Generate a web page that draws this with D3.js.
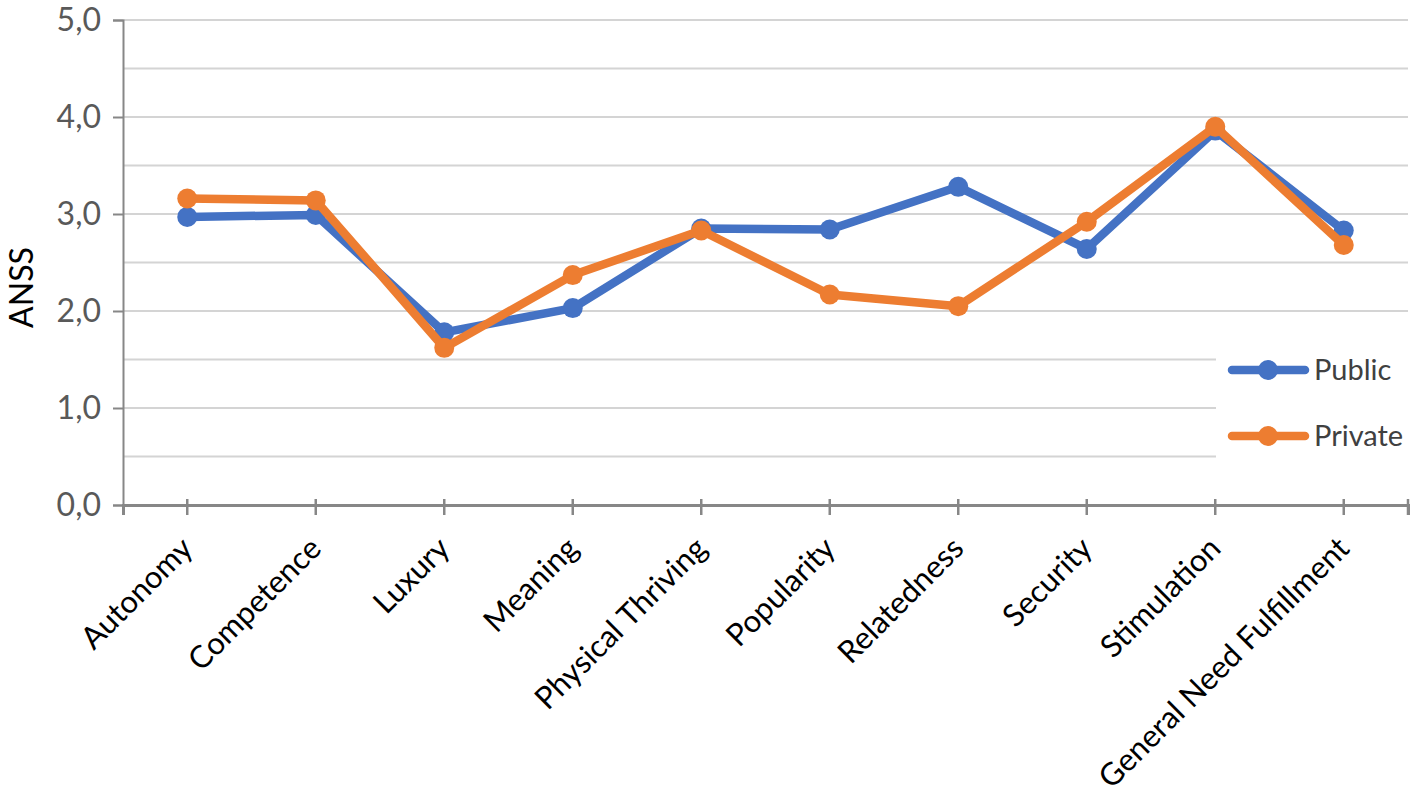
<!DOCTYPE html>
<html>
<head>
<meta charset="utf-8">
<script src="https://cdn.jsdelivr.net/npm/d3@7"></script>
<style>
  body { margin: 0; background: #fff; }
  text { font-family: Lato, "Open Sans", sans-serif; }
</style>
</head>
<body>
<svg id="chart"></svg>
<script>
const width = 1418;
const height = 799;
const margin = {left: 123, right: 10, top: 20, bottom: 294};

// values
const categories = ["Autonomy", "Competence", "Luxury", "Meaning", "Physical Thriving",
    "Popularity", "Relatedness", "Security", "Stimulation", "General Need Fulfillment"];
const publicValues  = [2.97, 2.99, 1.78, 2.03, 2.85, 2.84, 3.28, 2.64, 3.86, 2.83];
const privateValues = [3.16, 3.14, 1.62, 2.37, 2.83, 2.17, 2.05, 2.92, 3.90, 2.68];
const yTicks = [0, 1, 2, 3, 4, 5];
const yGrid = [0.5, 1, 1.5, 2, 2.5, 3, 3.5, 4, 4.5, 5];
const seriesNames = ["Public", "Private"];
const seriesColors = ["#4472C4", "#ED7D31"];

const series = [publicValues, privateValues];

const svg = d3.select('#chart')
    .attr('width', width)
    .attr('height', height);

const x = d3.scaleBand()
    .domain(categories)
    .range([margin.left, width - margin.right]);

const y = d3.scaleLinear()
    .domain([0, 5])
    .range([height - margin.bottom, margin.top]);

const fmt = d => d.toFixed(1).replace('.', ',');

// gridlines
svg.append('g')
    .selectAll('line')
    .data(yGrid)
    .enter().append('line')
        .attr('x1', margin.left)
        .attr('x2', width - margin.right)
        .attr('y1', d => y(d))
        .attr('y2', d => y(d))
        .style('stroke', '#d4d4d4')
        .style('stroke-width', '2px');

// y axis
const yAxis = svg.append('g')
    .attr('transform', `translate(${margin.left}, 0)`)
    .call(d3.axisLeft(y).tickValues(yTicks).tickFormat(fmt).tickSize(10).tickPadding(12));
yAxis.select('.domain').style('stroke', '#878787').style('stroke-width', '2px');
yAxis.selectAll('.tick line').style('stroke', '#878787').style('stroke-width', '2px');
yAxis.selectAll('.tick text')
    .style('font-size', '32px')
    .style('fill', '#595959');

// x axis
const xAxis = svg.append('g')
    .attr('transform', `translate(0, ${y(0)})`)
    .call(d3.axisBottom(x).tickSizeOuter(0).tickSize(10).tickFormat(''));
xAxis.select('.domain').style('stroke', '#878787').style('stroke-width', '3px');
xAxis.selectAll('.tick line')
    .attr('y1', -6)
    .attr('y2', 10)
    .style('stroke', '#878787')
    .style('stroke-width', '2.5px');
xAxis.append('line')
    .attr('x1', width - margin.right).attr('x2', width - margin.right)
    .attr('y1', -6).attr('y2', 10)
    .style('stroke', '#878787')
    .style('stroke-width', '2.5px');

// category labels, rotated
svg.append('g')
    .selectAll('text')
    .data(categories)
    .enter().append('text')
        .attr('transform', d => `translate(${x(d) + x.bandwidth() / 2 - 8}, ${y(0) + 30}) rotate(-45)`)
        .attr('text-anchor', 'end')
        .attr('dy', '0.7em')
        .style('font-size', '31px')
        .style('fill', '#000')
        .text(d => d);

// y title
svg.append('text')
    .attr('transform', `translate(33, ${(y(0) + y(5)) / 2 + 25}) rotate(-90)`)
    .attr('text-anchor', 'middle')
    .style('font-size', '32px')
    .style('fill', '#000')
    .text('ANSS');

// lines + markers
const line = d3.line()
    .x((d, i) => x(categories[i]) + x.bandwidth() / 2)
    .y(d => y(d));

series.forEach((vals, s) => {
    const g = svg.append('g').attr('class', 'series_group');
    g.append('path')
        .datum(vals)
        .attr('d', line)
        .style('fill', 'none')
        .style('stroke', seriesColors[s])
        .style('stroke-width', '8.5px')
        .style('stroke-linejoin', 'round');
    g.selectAll('circle')
        .data(vals)
        .enter().append('circle')
            .attr('cx', (d, i) => x(categories[i]) + x.bandwidth() / 2)
            .attr('cy', d => y(d))
            .attr('r', 10)
            .style('fill', seriesColors[s]);
});

// legend
const legend = svg.append('g').attr('transform', 'translate(1216, 335)');
legend.append('rect')
    .attr('width', 195)
    .attr('height', 135)
    .style('fill', '#fff');

seriesNames.forEach((name, i) => {
    const ly = 35 + i * 66;
    legend.append('line')
        .attr('x1', 16).attr('x2', 89)
        .attr('y1', ly).attr('y2', ly)
        .style('stroke', seriesColors[i])
        .style('stroke-width', '8.5px')
        .style('stroke-linecap', 'round');
    legend.append('circle')
        .attr('cx', 52).attr('cy', ly)
        .attr('r', 10)
        .style('fill', seriesColors[i]);
    legend.append('text')
        .attr('x', 98).attr('y', ly)
        .attr('dy', '0.36em')
        .style('font-size', '29px')
        .style('fill', '#404040')
        .text(name);
});
</script>
</body>
</html>
